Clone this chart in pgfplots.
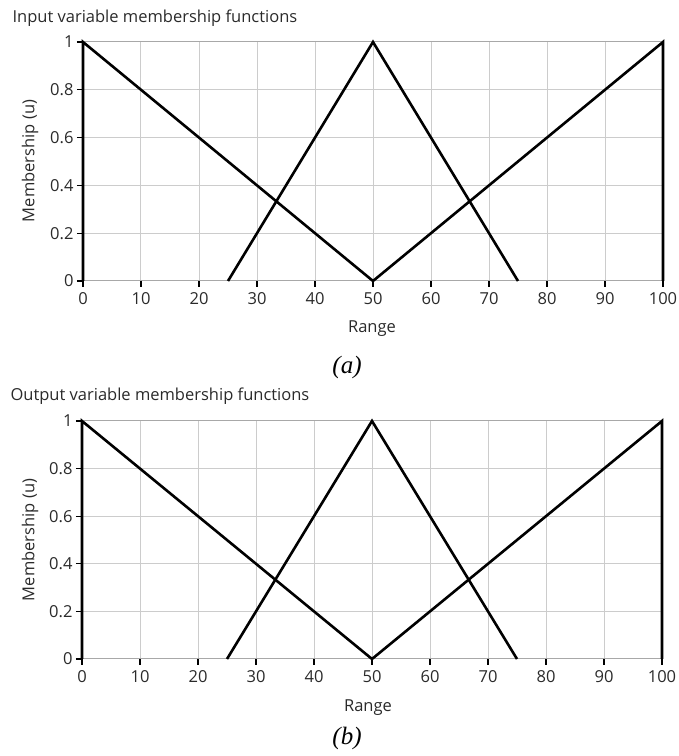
\documentclass[border=0pt]{standalone}
\usepackage{pgfplots}
\pgfplotsset{compat=1.18}
\usepackage{fontspec}
\setmainfont{Open Sans}
\newfontfamily\capfont{Liberation Serif}
\definecolor{gridc}{HTML}{CCCCCC}
\definecolor{framec}{HTML}{A8A8A8}
\definecolor{txt}{HTML}{2A2A2A}
\newcommand\lf{\fontsize{16.5}{18}\selectfont}
\pgfplotsset{
  mfaxis/.style={
    scale only axis,
    xmin=0, xmax=100, ymin=0, ymax=1,
    xtick={0,10,...,100},
    ytick={0,0.2,0.4,0.6,0.8,1},
    yticklabels={0,0.2,0.4,0.6,0.8,1},
    xtick pos=bottom, ytick pos=left,
    grid=major,
    major grid style={gridc, line width=1pt},
    axis line style={framec, line width=1pt},
    tick align=outside,
    major tick length=6pt,
    every tick/.style={black, line width=1.2pt},
    tick label style={font=\lf, text=txt},
    /pgf/number format/assume math mode=true,
    xticklabel style={yshift=-2pt},
    clip=false,
  },
  mfline/.style={black, line width=2.6pt, line join=miter, line cap=butt},
}
\begin{document}
\begin{tikzpicture}[x=1pt,y=1pt]
\path[use as bounding box] (0,0) rectangle (679,756);
% panel (a)
\begin{axis}[mfaxis, at={(83pt,475pt)}, anchor=south west, width=580pt, height=239pt]
\addplot[mfline] coordinates {(0,0) (0,1) (50,0)};
\addplot[mfline] coordinates {(25,0) (50,1) (75,0)};
\addplot[mfline] coordinates {(50,0) (100,1) (100,0)};
\end{axis}
\node[anchor=west, text=txt, font=\lf] at (9,738) {Input variable membership functions};
\node[rotate=90, text=txt, font=\lf] at (30,595) {Membership (u)};
\node[text=txt, font=\lf] at (372,427) {Range};
\node[font=\capfont\itshape\fontsize{25}{27}\selectfont] at (347,389) {(a)};
% panel (b)
\begin{axis}[mfaxis, at={(82pt,97pt)}, anchor=south west, width=580pt, height=238pt]
\addplot[mfline] coordinates {(0,0) (0,1) (50,0)};
\addplot[mfline] coordinates {(25,0) (50,1) (75,0)};
\addplot[mfline] coordinates {(50,0) (100,1) (100,0)};
\end{axis}
\node[anchor=west, text=txt, font=\lf] at (7,360) {Output variable membership functions};
\node[rotate=90, text=txt, font=\lf] at (30,216) {Membership (u)};
\node[text=txt, font=\lf] at (368,48) {Range};
\node[font=\capfont\itshape\fontsize{25}{27}\selectfont] at (347,18) {(b)};
\end{tikzpicture}
\end{document}
